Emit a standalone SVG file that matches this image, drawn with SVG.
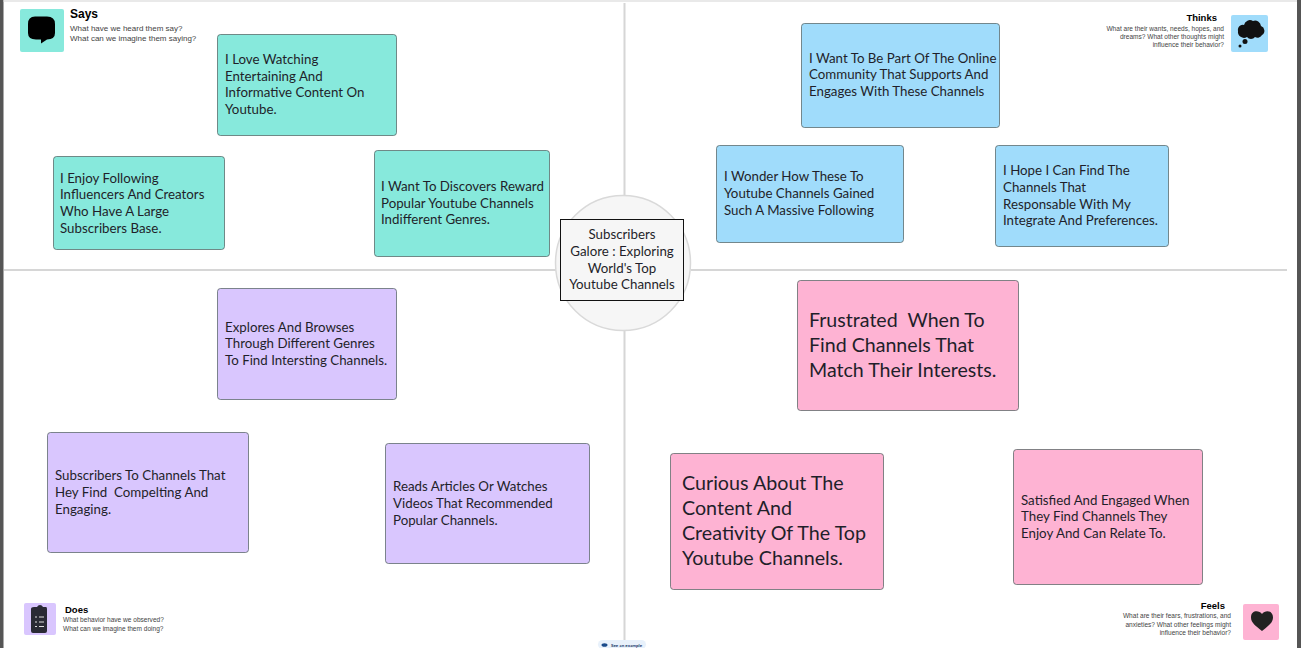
<svg xmlns="http://www.w3.org/2000/svg" width="1301" height="648" viewBox="0 0 1301 648">
<style>
text{font-family:Lato,"Liberation Sans",Arial,sans-serif;fill:#1f1f2a}
.s{stroke:#4a5a5a;stroke-width:.7}
.g{fill:#87e9dc}.b{fill:#a0dcfb}.p{fill:#d9c6fe}.k{fill:#feb3d3}
.t{font-size:13.3px}
.h{font-family:"Liberation Sans",Arial,sans-serif;font-weight:700;fill:#000}
.q{font-family:"Liberation Sans",Arial,sans-serif;fill:#444}
.l{stroke:#d6d6d6;stroke-width:2;fill:none}
</style>
<rect width="1301" height="648" fill="#fff"/>
<rect x="0" y="0" width="3.500" height="648" fill="#555"/>
<rect x="1297" y="0" width="4" height="648" fill="#555"/>
<path d="M3.500 1H1297" stroke="#e2e2e2" stroke-width="1.500"/>
<g id="connectors">
<path class="l" d="M624.500 3V196M624.500 330V648M4 270H556M691 270H1287"/>
</g>
<g id="center">
<circle cx="623" cy="263" r="67.500" fill="#f6f6f6" stroke="#d9d9d9" stroke-width="1.500"/>
<rect x="560.500" y="219.500" width="123" height="81" fill="#f6f6f6" stroke="#111" stroke-width="1"/>
<text class="t" text-anchor="middle"><tspan x="622" y="239">Subscribers</tspan><tspan x="622" y="256">Galore : Exploring</tspan><tspan x="622" y="273">World's Top</tspan><tspan x="622" y="289">Youtube Channels</tspan></text>
</g>
<g id="says">
<rect x="20" y="9" width="44" height="43" rx="2" class="g"/>
<path d="M35 16.500H47Q55 16.500 55 24V33Q55 39.500 47 39.500H47L41 43.500V39.500H36Q28 39.500 28 33V24Q28 16.500 35 16.500Z" fill="#000"/>
<text x="70" y="18" class="h" font-size="12">Says</text>
<text class="q" font-size="8"><tspan x="70" y="31">What have we heard them say?</tspan><tspan x="70" y="41">What can we imagine them saying?</tspan></text>
</g>
<g id="thinks">
<rect x="1231" y="15" width="37" height="37" rx="2" class="b"/>
<path d="M1238 31a5 5 0 0 1 6-6a6 6 0 0 1 9-4a6 6 0 0 1 8 5a5 5 0 0 1 1 9a5 5 0 0 1-7 2a5 5 0 0 1-8 0a6 6 0 0 1-9-6z" fill="#111"/>
<circle cx="1245" cy="41.500" r="2.500" fill="#111"/><circle cx="1240" cy="46" r="1.500" fill="#111"/>
<text x="1217" y="21" class="h" font-size="9.500" text-anchor="end">Thinks</text>
<text class="q" text-anchor="end" font-size="6.550"><tspan x="1224" y="31">What are their wants, needs, hopes, and</tspan><tspan x="1224" y="39">dreams? What other thoughts might</tspan><tspan x="1224" y="47">influence their behavior?</tspan></text>
</g>
<g id="does">
<rect x="24" y="603" width="32" height="32" rx="2" class="p"/>
<path d="M34 607H37Q38 605 40 605Q42 605 43 607H46Q47 607 47 609V631Q47 633 45 633H33Q31 633 31 631V609Q31 607 34 607Z" fill="#2a2a35"/>
<path d="M35 617h2M39 617h5M35 622h2M39 622h5M35 626.500h2M39 626.500h5" stroke="#ddd" stroke-width="1"/>
<text x="65" y="613" class="h" font-size="9.500">Does</text>
<text class="q" font-size="6.550"><tspan x="63" y="622">What behavior have we observed?</tspan><tspan x="63" y="631">What can we imagine them doing?</tspan></text>
</g>
<g id="feels">
<rect x="1243" y="604" width="36" height="36" rx="2" class="k"/>
<path d="M1262 631C1256 626 1251 623 1251 617.500C1251 610 1259 610 1262 614C1265 610 1273 610 1273 617.500C1273 623 1268 626 1262 631Z" fill="#222"/>
<text x="1225" y="609" class="h" font-size="9.500" text-anchor="end">Feels</text>
<text class="q" text-anchor="end" font-size="6.550"><tspan x="1231" y="618">What are their fears, frustrations, and</tspan><tspan x="1231" y="627">anxieties? What other feelings might</tspan><tspan x="1231" y="635">influence their behavior?</tspan></text>
</g>
<g id="n1"><rect x="217.500" y="34.500" width="179" height="101" rx="3" class="g s"/><text class="t"><tspan x="225" y="64">I Love Watching</tspan><tspan x="225" y="81">Entertaining And</tspan><tspan x="225" y="97">Informative Content On</tspan><tspan x="225" y="114">Youtube.</tspan></text></g>
<g id="n2"><rect x="53.500" y="156.500" width="171" height="93" rx="3" class="g s"/><text class="t"><tspan x="60" y="183">I Enjoy Following</tspan><tspan x="60" y="199">Influencers And Creators</tspan><tspan x="60" y="216">Who Have A Large</tspan><tspan x="60" y="233">Subscribers Base.</tspan></text></g>
<g id="n3"><rect x="374.500" y="150.500" width="175" height="106" rx="3" class="g s"/><text class="t"><tspan x="381" y="191">I Want To Discovers Reward</tspan><tspan x="381" y="208">Popular Youtube Channels</tspan><tspan x="381" y="224">Indifferent Genres.</tspan></text></g>
<g id="n4"><rect x="801.500" y="23.500" width="198" height="104" rx="3" class="b s"/><text class="t"><tspan x="809" y="63">I Want To Be Part Of The Online</tspan><tspan x="809" y="79">Community That Supports And</tspan><tspan x="809" y="96">Engages With These Channels</tspan></text></g>
<g id="n5"><rect x="716.500" y="145.500" width="187" height="97" rx="3" class="b s"/><text class="t"><tspan x="724" y="181">I Wonder How These To</tspan><tspan x="724" y="198">Youtube Channels Gained</tspan><tspan x="724" y="215">Such A Massive Following</tspan></text></g>
<g id="n6"><rect x="995.500" y="145.500" width="173" height="101" rx="3" class="b s"/><text class="t"><tspan x="1003" y="175">I Hope I Can Find The</tspan><tspan x="1003" y="192">Channels That</tspan><tspan x="1003" y="209">Responsable With My</tspan><tspan x="1003" y="225">Integrate And Preferences.</tspan></text></g>
<g id="n7"><rect x="217.500" y="288.500" width="179" height="111" rx="3" class="p s"/><text class="t"><tspan x="225" y="332">Explores And Browses</tspan><tspan x="225" y="348">Through Different Genres</tspan><tspan x="225" y="365">To Find Intersting Channels.</tspan></text></g>
<g id="n8"><rect x="47.500" y="432.500" width="201" height="120" rx="3" class="p s"/><text class="t" xml:space="preserve"><tspan x="55" y="480">Subscribers To Channels That</tspan><tspan x="55" y="497">Hey Find  Compelting And</tspan><tspan x="55" y="514">Engaging.</tspan></text></g>
<g id="n9"><rect x="385.500" y="443.500" width="204" height="120" rx="3" class="p s"/><text class="t"><tspan x="393" y="491">Reads Articles Or Watches</tspan><tspan x="393" y="508">Videos That Recommended</tspan><tspan x="393" y="525">Popular Channels.</tspan></text></g>
<g id="n10"><rect x="797.500" y="280.500" width="221" height="130" rx="3" class="k s"/><text font-size="19.600" xml:space="preserve"><tspan x="809" y="327">Frustrated  When To</tspan><tspan x="809" y="352">Find Channels That</tspan><tspan x="809" y="377">Match Their Interests.</tspan></text></g>
<g id="n11"><rect x="670.500" y="453.500" width="213" height="136" rx="3" class="k s"/><text font-size="19.700"><tspan x="682" y="490">Curious About The</tspan><tspan x="682" y="515">Content And</tspan><tspan x="682" y="540">Creativity Of The Top</tspan><tspan x="682" y="565">Youtube Channels.</tspan></text></g>
<g id="n12"><rect x="1013.500" y="449.500" width="189" height="135" rx="3" class="k s"/><text class="t"><tspan x="1021" y="505">Satisfied And Engaged When</tspan><tspan x="1021" y="521">They Find Channels They</tspan><tspan x="1021" y="538">Enjoy And Can Relate To.</tspan></text></g>
<g id="example">
<rect x="598" y="640" width="48" height="9" rx="4.500" fill="#e8f1fb"/>
<ellipse cx="604.500" cy="645" rx="3" ry="1.800" fill="#1a4a8a"/>
<text x="611" y="647" font-size="4.500" font-weight="700" style="fill:#1a3a6a">See an example</text>
</g>
</svg>
